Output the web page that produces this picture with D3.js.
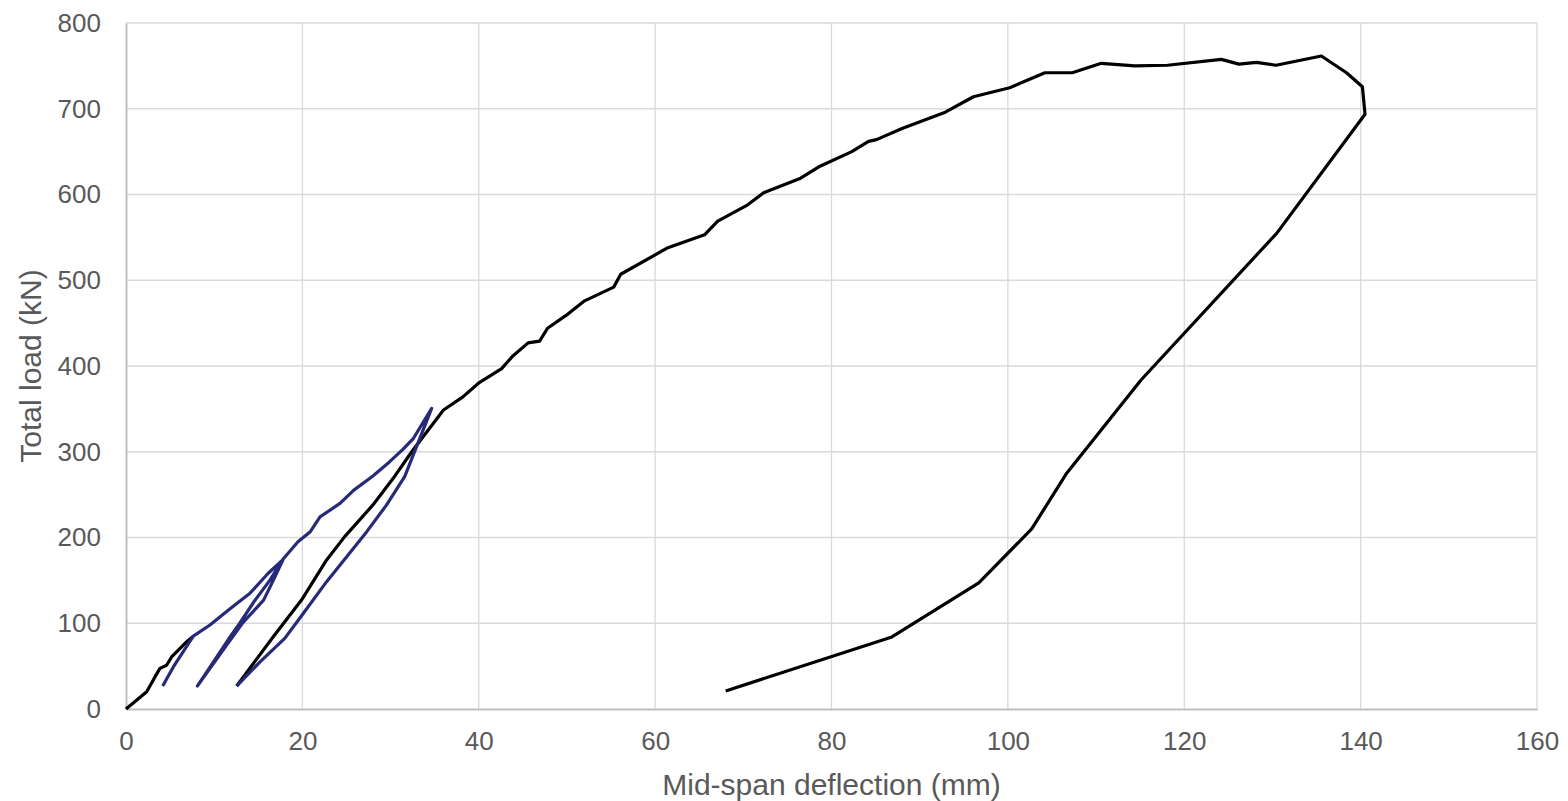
<!DOCTYPE html>
<html>
<head>
<meta charset="utf-8">
<script src="https://cdn.jsdelivr.net/npm/d3@7"></script>
<style>
  body { margin: 0; background: #fff; }
  text { font-family: "Liberation Sans", Arial, sans-serif; fill: #595959; }
</style>
</head>
<body>
<div class="canvas"></div>
<script>
// monotonic black curve: first loading up to ~85 kN
const blackStart = [
  [0, 0], [2.35, 20], [3.3, 37.7], [3.85, 47.4], [4.6, 51], [5.2, 61], [6.7, 76.6], [7.63, 85]
];

// black curve: final reloading from 26 kN up to failure and unloading
const blackFinal = [
  [12.55, 26.8], [16.7, 84.3], [19.9, 127], [22.75, 173.8], [24.8, 201], [28, 238],
  [30.3, 269], [32.4, 300], [36.0, 348.7], [38.2, 364], [40.1, 381], [42.6, 397], [43.8, 411],
  [45.6, 427], [46.9, 429], [47.8, 444], [49.9, 459], [52, 476], [55.3, 492], [56.1, 507],
  [61.45, 538], [65.6, 553], [67.1, 569], [70.5, 588], [72.3, 602], [76.5, 619], [78.7, 633],
  [82.3, 650], [84.2, 662], [85.1, 664], [88, 677], [92.9, 696], [96.1, 714], [100.2, 724.5],
  [104.2, 742], [107.3, 742], [110.6, 753], [114.4, 750], [118.1, 750.7], [124.2, 757.6],
  [126.2, 752], [128.2, 754], [130.4, 750.7], [135.55, 761.5], [138.4, 742], [140.2, 725.7],
  [140.5, 693.5], [130.5, 555], [115.1, 383.7], [106.6, 274], [102.7, 210], [96.7, 147],
  [86.85, 84], [68.0, 21]
];

// blue curve: intermediate unload / reload cycles
const blueCycles = [
  [4.16, 26.8], [5.37, 49], [7.63, 85], [9.52, 98], [11.8, 117], [14.06, 135],
  [16.1, 158], [17.8, 174], [16.7, 150], [15.6, 127], [13.2, 100], [11.8, 80], [8.09, 26.8],
  [11.8, 84], [12.9, 100], [14.5, 125], [16.3, 150], [17.8, 174.6], [19.5, 195], [20.9, 206.8],
  [22, 224], [24.3, 240], [25.8, 255], [28.0, 271.7], [29.9, 288.4], [31.4, 302.8],
  [32.6, 315.7], [34.66, 350.6], [31.6, 271], [29.55, 238], [27.3, 206.8], [22.75, 148.5],
  [19.7, 105.8], [18.0, 82.4], [15.2, 55], [12.55, 26.8]
];

const xTicks = [0, 20, 40, 60, 80, 100, 120, 140, 160];
const yTicks = [0, 100, 200, 300, 400, 500, 600, 700, 800];

const dims = { width: 1568, height: 801 };
const plot = { left: 126, right: 1537, top: 23, bottom: 709 };

const svg = d3.select('.canvas')
  .append('svg')
  .attr('width', dims.width)
  .attr('height', dims.height);

const x = d3.scaleLinear().domain([0, 160]).range([plot.left, plot.right]);
const y = d3.scaleLinear().domain([0, 800]).range([plot.bottom, plot.top]);

// gridlines
svg.append('g')
  .selectAll('line.vgrid')
  .data(xTicks.filter(d => d > 0))
  .enter().append('line')
    .attr('x1', d => x(d)).attr('x2', d => x(d))
    .attr('y1', plot.top).attr('y2', plot.bottom)
    .attr('stroke', '#d9d9d9').attr('stroke-width', 1.3);

svg.append('g')
  .selectAll('line.hgrid')
  .data(yTicks.filter(d => d > 0))
  .enter().append('line')
    .attr('x1', plot.left).attr('x2', plot.right)
    .attr('y1', d => y(d)).attr('y2', d => y(d))
    .attr('stroke', '#d9d9d9').attr('stroke-width', 1.3);

// axes
const xAxis = svg.append('g')
  .attr('transform', `translate(0,${plot.bottom})`)
  .call(d3.axisBottom(x).tickValues(xTicks).tickSize(0).tickPadding(23));
const yAxis = svg.append('g')
  .attr('transform', `translate(${plot.left},0)`)
  .call(d3.axisLeft(y).tickValues(yTicks).tickSize(0).tickPadding(25));

[xAxis, yAxis].forEach(a => {
  a.select('.domain').attr('stroke', '#bfbfbf').attr('stroke-width', 2);
  a.selectAll('text')
    .style('font-family', '"Liberation Sans", Arial, sans-serif')
    .style('font-size', '26px')
    .attr('fill', '#595959');
});

// lines
const line = d3.line().x(d => x(d[0])).y(d => y(d[1]));

const series = [
  { data: blackStart, color: '#000000' },
  { data: blackFinal, color: '#000000' },
  { data: blueCycles, color: '#272a78' }
];

svg.append('g')
  .selectAll('path')
  .data(series)
  .enter().append('path')
    .attr('d', d => line(d.data))
    .attr('fill', 'none')
    .attr('stroke', d => d.color)
    .attr('stroke-width', 3.2)
    .attr('stroke-linejoin', 'round');

// axis titles
svg.append('text')
  .attr('x', (plot.left + plot.right) / 2)
  .attr('y', 795)
  .attr('text-anchor', 'middle')
  .style('font-size', '30px')
  .text('Mid-span deflection (mm)');

svg.append('text')
  .attr('transform', `translate(41,${(plot.top + plot.bottom) / 2}) rotate(-90)`)
  .attr('text-anchor', 'middle')
  .style('font-size', '30px')
  .text('Total load (kN)');
</script>
</body>
</html>
